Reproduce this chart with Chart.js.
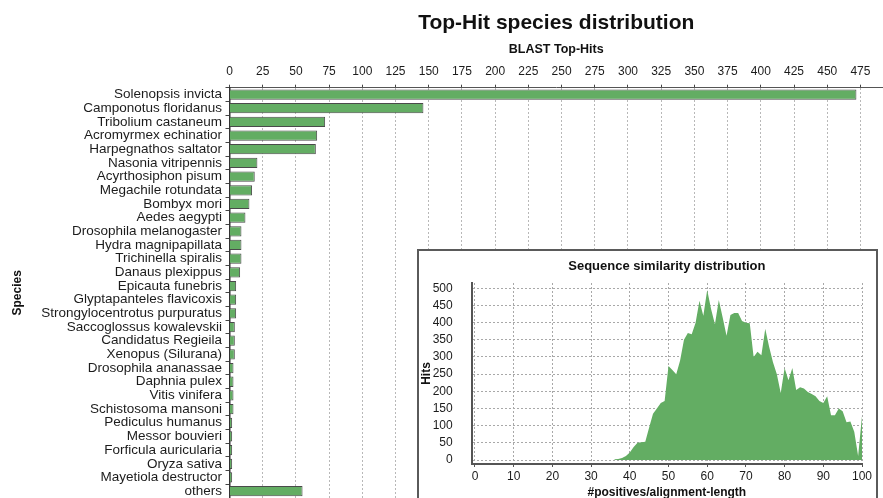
<!DOCTYPE html>
<html>
<head>
<meta charset="utf-8">
<title>Top-Hit species distribution</title>
<script src="https://cdn.jsdelivr.net/npm/chart.js@4.4.1/dist/chart.umd.min.js"></script>
<style>
  html, body { margin: 0; padding: 0; background: #fff; overflow: hidden; }
  #wrap { position: relative; width: 883px; height: 498px; overflow: hidden; }
  #main { position: absolute; left: 0; top: 0; }
  #insetBox {
    position: absolute; left: 417px; top: 249px; width: 461px; height: 260px;
    box-sizing: border-box; border: 2px solid #5a5a5a; background: #fff;
  }
  #inset { display: block; }
</style>
</head>
<body>
<div id="wrap">
  <canvas id="main" width="883" height="498"></canvas>
  <div id="insetBox"><canvas id="inset" width="457" height="256"></canvas></div>
</div>
<script>
// BLAST top-hit counts per species
const species = [
  'Solenopsis invicta', 'Camponotus floridanus', 'Tribolium castaneum',
  'Acromyrmex echinatior', 'Harpegnathos saltator', 'Nasonia vitripennis',
  'Acyrthosiphon pisum', 'Megachile rotundata', 'Bombyx mori', 'Aedes aegypti',
  'Drosophila melanogaster', 'Hydra magnipapillata', 'Trichinella spiralis',
  'Danaus plexippus', 'Epicauta funebris', 'Glyptapanteles flavicoxis',
  'Strongylocentrotus purpuratus', 'Saccoglossus kowalevskii', 'Candidatus Regieila',
  'Xenopus (Silurana)', 'Drosophila ananassae', 'Daphnia pulex', 'Vitis vinifera',
  'Schistosoma mansoni', 'Pediculus humanus', 'Messor bouvieri',
  'Forficula auricularia', 'Oryza sativa', 'Mayetiola destructor', 'others'
];
const topHits = [
  472, 146, 72, 66, 65, 21,
  19, 17, 15, 12,
  9, 9, 9,
  8, 5, 5,
  5, 4, 4,
  4, 3, 3, 3,
  3, 2, 2,
  2, 2, 2, 55
];
const hitTicks = [0, 25, 50, 75, 100, 125, 150, 175, 200, 225, 250, 275, 300,
                  325, 350, 375, 400, 425, 450, 475];

// Sequence similarity distribution (hits per % positives/alignment length)
const similarity = [36, 37, 38, 39, 40, 41, 42, 43, 44, 45, 46, 47, 48, 49, 50,
                    51, 52, 53, 54, 55, 56, 57, 58, 59, 60, 61, 62, 63, 64, 65,
                    66, 67, 68, 69, 70, 71, 72, 73, 74, 75, 76, 77, 78, 79, 80,
                    81, 82, 83, 84, 85, 86, 87, 88, 89, 90, 91, 92, 93, 94, 95,
                    96, 97, 98, 99, 100];
const hitCounts = [2, 3, 6, 12, 22, 38, 50, 52, 53, 95, 135, 150, 166, 172, 274,
                   262, 250, 290, 350, 370, 366, 400, 464, 420, 495, 440, 395, 466, 415, 362,
                   422, 428, 428, 405, 400, 398, 300, 315, 305, 382, 330, 285, 250, 195, 268,
                   232, 268, 204, 212, 208, 198, 192, 186, 172, 166, 186, 130, 130, 150, 142,
                   110, 112, 82, 12, 128];
const simTicks = [0, 10, 20, 30, 40, 50, 60, 70, 80, 90, 100];
const countTicks = [0, 50, 100, 150, 200, 250, 300, 350, 400, 450, 500];

const FONT = "'Liberation Sans', Arial, Helvetica, sans-serif";
const TEXT = '#1c1c1c';
const GREEN = '#63ad63';

Chart.defaults.font.family = FONT;
Chart.defaults.color = TEXT;

// Main horizontal bar chart: top hits per species
new Chart(document.getElementById('main'), {
  type: 'bar',
  data: {
    labels: species,
    datasets: [{
      data: topHits,
      backgroundColor: GREEN,
      borderColor: '#4a4a4a',
      borderWidth: 1,
      barPercentage: 0.75,
      categoryPercentage: 1
    }]
  },
  options: {
    responsive: false,
    animation: false,
    indexAxis: 'y',
    layout: { padding: 0 },
    plugins: {
      legend: { display: false },
      tooltip: { enabled: false },
      title: {
        display: true, text: 'Top-Hit species distribution', fullSize: false,
        color: '#111', font: { size: 21, weight: 'bold' },
        padding: { top: 10.5, bottom: 0 }
      },
      subtitle: {
        display: true, text: 'BLAST Top-Hits', fullSize: false,
        color: '#111', font: { size: 12.5, weight: 'bold' },
        padding: { top: 6, bottom: 0 }
      }
    },
    scales: {
      x: {
        position: 'top', min: 0, max: 492,
        afterBuildTicks: (axis) => { axis.ticks = hitTicks.map(v => ({ value: v })); },
        afterFit: (axis) => { axis.height = 31; },
        ticks: { color: TEXT, font: { size: 12 }, padding: 6, maxRotation: 0, autoSkip: false },
        grid: { color: '#b8b8b8', lineWidth: 1, tickColor: '#444', tickLength: 3, tickWidth: 1 },
        border: { color: '#555', width: 1, dash: [2, 2] }
      },
      y: {
        afterFit: (axis) => { axis.width = 229.5; axis.paddingTop = 0; axis.paddingBottom = 0; },
        ticks: { color: TEXT, font: { size: 13.5 }, padding: 3.5, autoSkip: false },
        grid: { drawOnChartArea: false, tickColor: '#444', tickLength: 4 },
        border: { color: '#333', width: 1.5 },
        title: {
          display: true, text: 'Species', color: '#111',
          font: { size: 12, weight: 'bold' },
          padding: { top: 10.8, bottom: 0 }
        }
      }
    }
  }
});

// Inset area chart: sequence similarity distribution
new Chart(document.getElementById('inset'), {
  type: 'line',
  data: {
    datasets: [{
      data: similarity.map((x, i) => ({ x: x, y: hitCounts[i] })),
      fill: 'origin',
      backgroundColor: GREEN,
      borderColor: GREEN,
      borderWidth: 0,
      pointRadius: 0,
      tension: 0
    }]
  },
  options: {
    responsive: false,
    animation: false,
    layout: { padding: { left: 0, right: 14, top: 0, bottom: 7.5 } },
    plugins: {
      legend: { display: false },
      tooltip: { enabled: false },
      title: {
        display: true, text: 'Sequence similarity distribution', fullSize: false,
        color: '#111', font: { size: 13, weight: 'bold' },
        padding: { top: 8, bottom: 8.4 }
      }
    },
    scales: {
      x: {
        type: 'linear', min: -0.85, max: 100,
        afterBuildTicks: (axis) => { axis.ticks = simTicks.map(v => ({ value: v })); },
        afterFit: (axis) => { axis.height = 35.5; },
        ticks: { color: TEXT, font: { size: 12 }, padding: 2.3, maxRotation: 0, autoSkip: false },
        grid: { color: '#a8a8a8', tickColor: '#555', tickLength: 3 },
        border: { color: '#555', width: 2, dash: [2, 2] },
        title: {
          display: true, text: '#positives/alignment-length', color: '#111',
          font: { size: 12, weight: 'bold' }, padding: { top: 0, bottom: 0 }
        }
      },
      y: {
        min: -11.6, max: 515.4,
        afterBuildTicks: (axis) => { axis.ticks = countTicks.map(v => ({ value: v })); },
        afterFit: (axis) => { axis.width = 52.7; axis.paddingTop = 0; axis.paddingBottom = 0; },
        ticks: { color: TEXT, font: { size: 12 }, padding: 19, autoSkip: false },
        grid: { color: '#a8a8a8', drawTicks: false },
        border: { color: '#555', width: 2, dash: [2, 2] },
        title: {
          display: true, text: 'Hits', color: '#111',
          font: { size: 12, weight: 'bold' }, padding: { top: 0, bottom: 0 }
        }
      }
    }
  }
});
</script>
</body>
</html>
